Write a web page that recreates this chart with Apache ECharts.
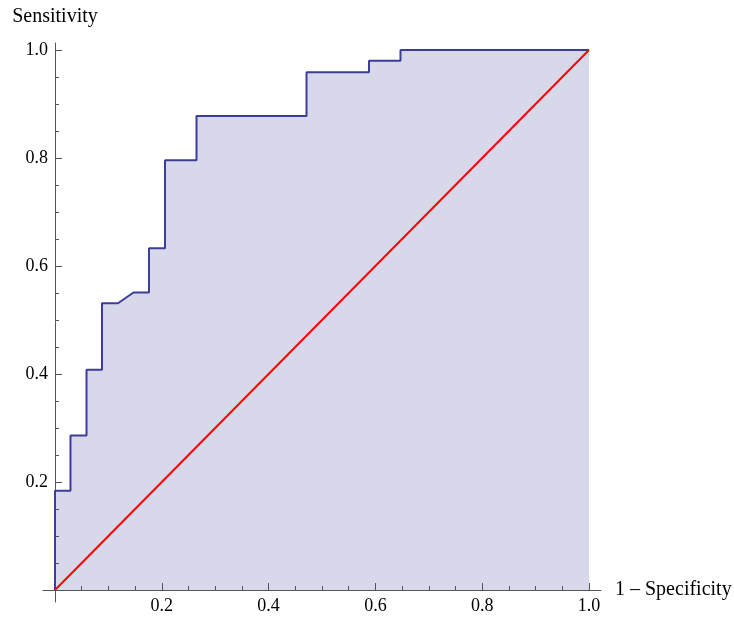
<!DOCTYPE html>
<html>
<head>
<meta charset="utf-8">
<script src="https://cdn.jsdelivr.net/npm/echarts@6/dist/echarts.min.js"></script>
<style>
  html, body { margin: 0; padding: 0; background: #fff; }
  #chart { width: 734px; height: 617px; }
</style>
</head>
<body>
<div id="chart"></div>
<script>
  // ROC curve points (1 - specificity, sensitivity)
  const fpr = [0, 0, 0.029, 0.029, 0.059, 0.059, 0.088, 0.088, 0.118, 0.147, 0.176, 0.176, 0.206, 0.206, 0.265, 0.265, 0.471, 0.471, 0.588, 0.588, 0.647, 0.647, 1];
  const tpr = [0, 0.184, 0.184, 0.286, 0.286, 0.408, 0.408, 0.531, 0.531, 0.551, 0.551, 0.633, 0.633, 0.796, 0.796, 0.878, 0.878, 0.959, 0.959, 0.98, 0.98, 1, 1];
  // reference diagonal
  const diagX = [0, 1];
  const diagY = [0, 1];
  const tickLabels = ['0.2', '0.4', '0.6', '0.8', '1.0'];

  const FONT = 'Liberation Serif';
  const AXIS_COLOR = '#555';

  const chart = echarts.init(document.getElementById('chart'));

  const fmt = (v) => {
    const s = v.toFixed(1);
    return tickLabels.includes(s) ? s : '';
  };

  const mainAxis = (name, extra) => Object.assign({
    type: 'value',
    min: 0,
    max: 1,
    interval: 0.2,
    axisLine: { show: false },
    axisTick: { show: true, inside: true, length: 7, lineStyle: { color: AXIS_COLOR } },
    minorTick: { show: true, splitNumber: 4, length: 4, lineStyle: { color: AXIS_COLOR } },
    splitLine: { show: false },
    axisLabel: { color: '#000', fontFamily: FONT, fontSize: 18, margin: 7, formatter: fmt },
    name,
    nameLocation: 'end',
  }, extra);

  // second grid only draws the axis lines, which run a little past 0 and 1
  const lineAxis = (min, max) => ({
    type: 'value',
    gridIndex: 1,
    min,
    max,
    axisLine: { show: true, onZero: true, lineStyle: { color: AXIS_COLOR, width: 1 } },
    axisTick: { show: false },
    axisLabel: { show: false },
    splitLine: { show: false },
  });

  const option = {
    animation: false,
    backgroundColor: '#fff',
    grid: [
      { left: 55, right: 145, top: 50, bottom: 27, outerBoundsMode: 'none' },
      { left: 43, right: 133, top: 43, bottom: 15, outerBoundsMode: 'none' },
    ],
    xAxis: [
      mainAxis('1 \u2013 Specificity', {
        nameGap: 26,
        nameTextStyle: { color: '#000', fontFamily: FONT, fontSize: 20, padding: [0, 0, 8, 0] },
      }),
      lineAxis(-0.0225, 1.0225),
    ],
    yAxis: [
      mainAxis('Sensitivity', {
        nameGap: 23,
        nameTextStyle: { color: '#000', fontFamily: FONT, fontSize: 20 },
      }),
      lineAxis(-0.0222, 1.013),
    ],
    series: [
      {
        name: 'ROC',
        type: 'line',
        data: fpr.map((x, i) => [x, tpr[i]]),
        showSymbol: false,
        symbol: 'none',
        lineStyle: { color: '#3d3d99', width: 2 },
        // translucent fill, axes show through like the original
        areaStyle: { color: '#3d3d99', opacity: 0.2, origin: 'start' },
        z: 3,
      },
      {
        name: 'Chance',
        type: 'line',
        data: diagX.map((x, i) => [x, diagY[i]]),
        showSymbol: false,
        symbol: 'none',
        lineStyle: { color: '#ff0000', width: 2 },
        z: 4,
      },
    ],
  };

  chart.setOption(option);
</script>
</body>
</html>
